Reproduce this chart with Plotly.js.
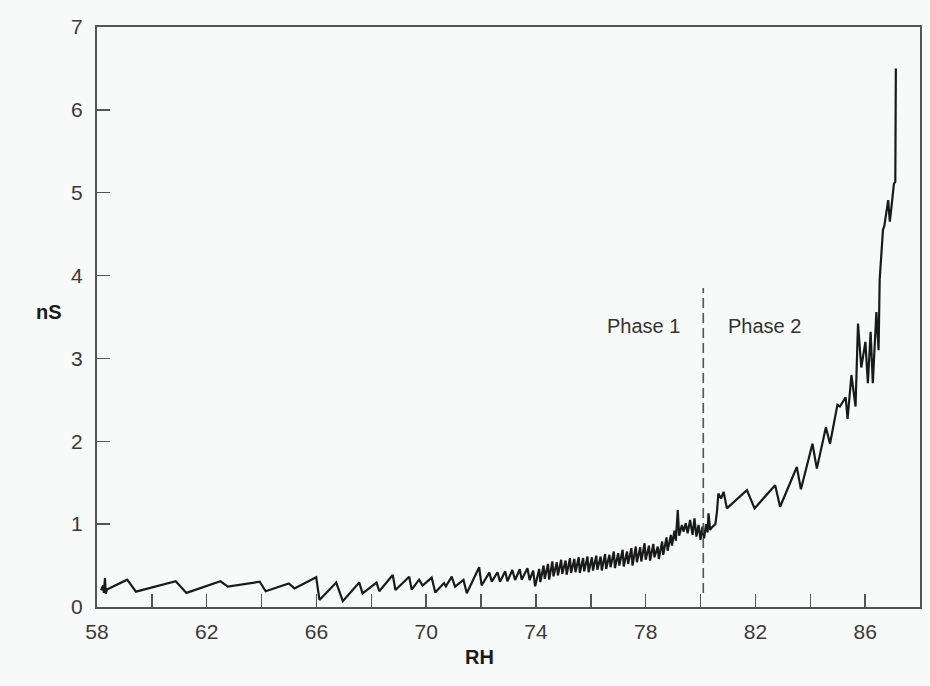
<!DOCTYPE html>
<html>
<head>
<meta charset="utf-8">
<script src="https://cdn.plot.ly/plotly-3.0.1.min.js"></script>
<style>
html,body{margin:0;padding:0;background:#f8f9f9;}
#chart{width:930px;height:686px;}
</style>
</head>
<body>
<div id="chart"></div>
<script>
// Relative humidity (RH, %) readings
var rh = [
 58.15,58.22,58.25,58.29,58.32,58.36,59.10,59.42,60.87,61.26,62.50,62.77,63.93,64.15,64.99,65.20,65.99,66.11,66.72,66.96,
 67.56,67.68,68.19,68.29,68.78,68.88,69.38,69.47,69.74,69.87,70.20,70.33,70.65,70.72,70.93,71.05,71.36,71.48,71.93,72.02,
 72.30,72.39,72.60,72.69,72.88,72.96,73.14,73.24,73.41,73.48,73.69,73.77,73.90,73.97,
 74.12,74.16,74.28,74.32,74.44,74.48,74.60,74.64,74.76,74.80,74.92,74.96,75.08,75.12,75.24,75.28,75.40,75.44,75.56,75.60,
 75.72,75.76,75.88,75.92,76.04,76.08,76.20,76.24,76.36,76.40,76.52,76.56,76.68,76.72,76.84,76.88,77.00,77.04,77.16,77.20,
 77.32,77.36,77.48,77.52,77.64,77.68,77.80,77.84,77.96,78.00,78.12,78.16,78.28,78.32,78.44,78.48,78.60,78.64,78.76,78.80,
 78.92,78.96,79.05,79.10,79.17,79.22,79.32,79.38,79.46,79.53,79.62,79.71,79.78,79.85,79.93,80.00,80.07,80.13,80.20,80.26,
 80.29,80.35,80.41,80.47,80.54,80.60,80.65,80.75,80.84,80.96,81.69,81.97,82.72,82.90,83.51,83.66,84.08,84.24,84.57,84.72,
 84.99,85.08,85.29,85.36,85.50,85.65,85.74,85.86,86.01,86.10,86.20,86.28,86.41,86.49,86.53,86.65,86.70,86.84,86.90,86.96,
 87.05,87.10,87.12
];
// Conductance (nS)
var ns = [
 0.20,0.26,0.17,0.35,0.16,0.21,0.33,0.185,0.31,0.17,0.31,0.245,0.305,0.19,0.285,0.225,0.36,0.085,0.295,0.07,
 0.295,0.165,0.295,0.19,0.386,0.205,0.366,0.21,0.33,0.26,0.355,0.175,0.29,0.25,0.366,0.245,0.326,0.165,0.48,0.26,
 0.415,0.306,0.42,0.306,0.43,0.31,0.446,0.326,0.456,0.33,0.467,0.326,0.44,0.25,
 0.46,0.30,0.50,0.34,0.52,0.33,0.55,0.37,0.54,0.38,0.57,0.40,0.56,0.39,0.59,0.41,0.58,0.42,0.60,0.41,
 0.59,0.43,0.61,0.42,0.60,0.44,0.62,0.45,0.61,0.44,0.64,0.46,0.63,0.48,0.67,0.47,0.65,0.50,0.69,0.49,
 0.67,0.52,0.71,0.50,0.73,0.54,0.72,0.55,0.77,0.57,0.74,0.56,0.76,0.60,0.73,0.58,0.79,0.63,0.84,0.68,
 0.87,0.74,0.92,0.80,1.17,0.86,0.99,0.91,1.01,0.89,1.05,0.87,1.07,0.85,0.99,0.81,0.97,0.83,1.00,0.90,
 1.13,0.93,0.96,0.98,1.00,1.15,1.37,1.31,1.39,1.19,1.41,1.19,1.47,1.21,1.69,1.42,1.97,1.67,2.17,1.97,
 2.44,2.42,2.53,2.27,2.80,2.42,3.42,2.89,3.20,2.70,3.32,2.70,3.56,3.10,3.95,4.55,4.60,4.91,4.65,4.83,
 5.11,5.13,6.50
];
// Phase boundary (dashed line)
var phaseLineX = [80.1, 80.1];
var phaseLineY = [0.17, 3.85];
var phaseLabels = ['Phase 1', 'Phase 2'];
var phaseLabelX = [77.93, 82.33];
var phaseLabelY = [3.39, 3.39];
// Axis ticks
var xTickVals = [58,60,62,64,66,68,70,72,74,76,78,80,82,84,86];
var xTickText = ['58','','62','','66','','70','','74','','78','','82','','86'];
var yTickVals = [0,1,2,3,4,5,6,7];

var traces = [
  {x: rh, y: ns, mode: 'lines', type: 'scatter',
   line: {color: '#1a1a1a', width: 2.2}, hoverinfo: 'skip'},
  {x: phaseLineX, y: phaseLineY, mode: 'lines', type: 'scatter',
   line: {color: '#555', width: 1.6, dash: '10px,5px'}, hoverinfo: 'skip'}
];

var annotations = phaseLabels.map(function(t, i){
  return {x: phaseLabelX[i], y: phaseLabelY[i], xref: 'x', yref: 'y', text: t, showarrow: false,
          font: {family: 'Liberation Sans, Arial, sans-serif', size: 20, color: '#333'}};
});
annotations.push({x: -0.0766, y: 3.56, xref: 'paper', yref: 'y', text: '<b>nS</b>', showarrow: false,
  font: {family: 'Liberation Sans, Arial, sans-serif', size: 20, color: '#1a1a1a'}});
annotations.push({x: 0.465, y: -0.108, xref: 'paper', yref: 'paper', text: '<b>RH</b>', showarrow: false,
  font: {family: 'Liberation Sans, Arial, sans-serif', size: 20, color: '#1a1a1a'}});

var layout = {
  width: 930, height: 686,
  margin: {l: 97, r: 10, t: 27, b: 79},
  paper_bgcolor: '#f8f9f9', plot_bgcolor: '#f8f9f9',
  showlegend: false,
  font: {family: 'Liberation Sans, Arial, sans-serif', size: 21, color: '#3a3a3a'},
  xaxis: {range: [58, 88], tickvals: xTickVals, ticktext: xTickText,
    ticks: 'inside', ticklen: 13, tickwidth: 1.5, tickcolor: '#555',
    showline: true, linecolor: '#555', linewidth: 2, mirror: true,
    showgrid: false, zeroline: false, ticklabelstandoff: 5,
    tickfont: {size: 21, color: '#3a3a3a'}},
  yaxis: {range: [0, 7], tickvals: yTickVals,
    ticks: 'inside', ticklen: 13, tickwidth: 1.5, tickcolor: '#555',
    showline: true, linecolor: '#555', linewidth: 2, mirror: true,
    showgrid: false, zeroline: false, ticklabelstandoff: 8,
    tickfont: {size: 21, color: '#3a3a3a'}},
  annotations: annotations
};
Plotly.newPlot('chart', traces, layout, {staticPlot: true, displayModeBar: false});
</script>
</body>
</html>
